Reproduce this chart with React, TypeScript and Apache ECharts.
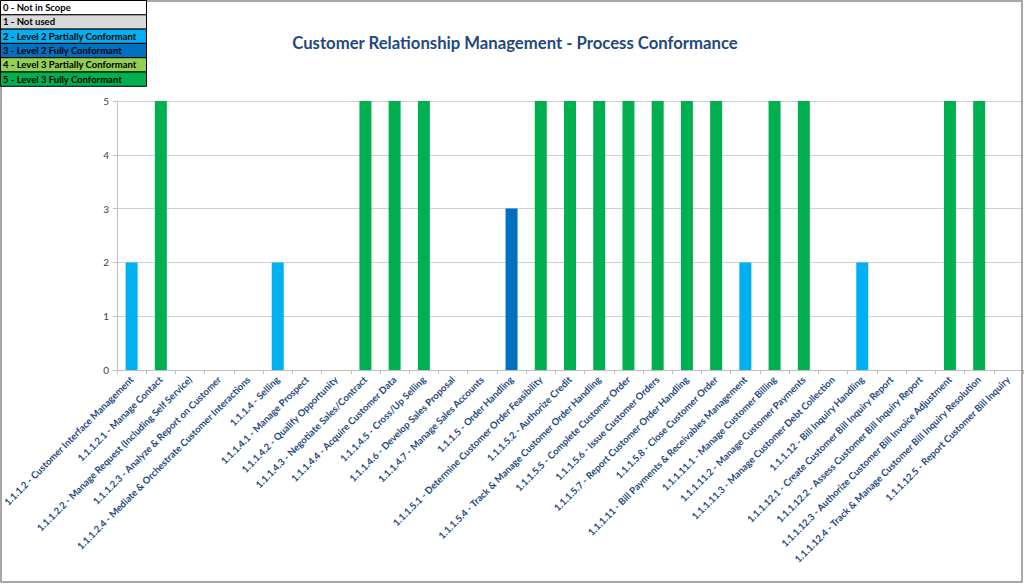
import React, { useEffect, useRef } from "react";
import * as echarts from "echarts";

const categories: string[] = [
  "1.1.1.2 - Customer Interface Management",
  "1.1.1.2.1 - Manage Contact",
  "1.1.1.2.2 - Manage Request (Including Self Service)",
  "1.1.1.2.3 - Analyze & Report on Customer",
  "1.1.1.2.4 - Mediate & Orchestrate Customer Interactions",
  "1.1.1.4 - Selling",
  "1.1.1.4.1 - Manage Prospect",
  "1.1.1.4.2 - Qualify Opportunity",
  "1.1.1.4.3 - Negotiate Sales/Contract",
  "1.1.1.4.4 - Acquire Customer Data",
  "1.1.1.4.5 - Cross/Up Selling",
  "1.1.1.4.6 - Develop Sales Proposal",
  "1.1.1.4.7 - Manage Sales Accounts",
  "1.1.1.5 - Order Handling",
  "1.1.1.5.1 - Determine Customer Order Feasibility",
  "1.1.1.5.2 - Authorize Credit",
  "1.1.1.5.4 - Track & Manage Customer Order Handling",
  "1.1.1.5.5 - Complete Customer Order",
  "1.1.1.5.6 - Issue Customer Orders",
  "1.1.1.5.7 - Report Customer Order Handling",
  "1.1.1.5.8 - Close Customer Order",
  "1.1.1.11 - Bill Payments & Receivables Management",
  "1.1.1.11.1 - Manage Customer Billing",
  "1.1.1.11.2 - Manage Customer Payments",
  "1.1.1.11.3 - Manage Customer Debt Collection",
  "1.1.1.12 - Bill Inquiry Handling",
  "1.1.1.12.1 - Create Customer Bill Inquiry Report",
  "1.1.1.12.2 - Assess Customer Bill Inquiry Report",
  "1.1.1.12.3 - Authorize Customer Bill Invoice Adjustment",
  "1.1.1.12.4 - Track & Manage Customer Bill Inquiry Resolution",
  "1.1.1.12.5 - Report Customer Bill Inquiry",
];

const values: number[] = [
  2, 5, 0, 0, 0, 2, 0, 0, 5, 5, 5, 0, 0, 3, 5, 5, 5, 5, 5, 5, 5, 2, 5, 5, 0, 2, 0, 0, 5, 5, 0,
];

const levelLabels: string[] = [
  "0 - Not in Scope",
  "1 - Not used",
  "2 - Level 2 Partially Conformant",
  "3 - Level 2 Fully Conformant",
  "4 - Level 3 Partially Conformant",
  "5 - Level 3 Fully Conformant",
];

const levelColors: string[] = ["#FFFFFF", "#D9D9D9", "#00B0F0", "#0070C0", "#92D050", "#00B050"];

const yTicks: number[] = [0, 1, 2, 3, 4, 5];

export default function App() {
  const ref = useRef<HTMLDivElement>(null);

  useEffect(() => {
    if (!ref.current) return;
    const chart = echarts.init(ref.current, undefined, { renderer: "svg" });

    const rowH = 14.3;
    const legendW = 146;
    const legendEls: any[] = [];
    levelLabels.forEach((lab, i) => {
      legendEls.push({
        type: "rect",
        shape: { x: 0.5, y: 0.5 + i * rowH, width: legendW, height: rowH },
        style: { fill: levelColors[i], stroke: "#000000", lineWidth: 1 },
        z: 10,
      });
      legendEls.push({
        type: "text",
        x: 3,
        y: 0.5 + i * rowH + rowH / 2,
        style: {
          text: lab,
          fill: "#000000",
          font: "bold 9.5px Lato, 'Noto Sans', sans-serif",
          verticalAlign: "middle",
          align: "left",
        },
        z: 11,
      });
    });

    chart.setOption({
      animation: false,
      backgroundColor: "#FFFFFF",
      title: {
        text: "Customer Relationship Management - Process Conformance",
        left: 510,
        top: 29,
        textAlign: "center",
        textStyle: {
          color: "#1F497D",
          fontFamily: "Lato, 'Noto Sans', sans-serif",
          fontWeight: "bold",
          fontSize: 16.7,
        },
      },
      graphic: [
        {
          type: "rect",
          shape: { x: 1, y: 1, width: 1021, height: 581 },
          style: { fill: "none", stroke: "#8C8C8C", lineWidth: 1.5 },
          z: 1,
          silent: true,
        },
        ...legendEls,
      ],
      grid: {
        left: 117,
        right: 1,
        top: 101,
        bottom: 214,
        containLabel: false,
        outerBoundsMode: "none",
      },
      xAxis: {
        type: "category",
        data: categories,
        boundaryGap: true,
        axisLine: { show: true, lineStyle: { color: "#BFBFBF", width: 1 } },
        axisTick: { show: true, alignWithLabel: false, length: 4, lineStyle: { color: "#BFBFBF" } },
        axisLabel: {
          interval: 0,
          rotate: 45,
          margin: 8,
          color: "#1F497D",
          fontWeight: "bold",
          fontSize: 9.6,
          fontFamily: "Lato, 'Noto Sans', sans-serif",
        },
      },
      yAxis: {
        type: "value",
        min: yTicks[0],
        max: yTicks[yTicks.length - 1],
        interval: 1,
        axisLine: { show: true, lineStyle: { color: "#BFBFBF" } },
        axisTick: { show: true, length: 4, lineStyle: { color: "#BFBFBF" } },
        splitLine: { show: true, lineStyle: { color: "#D0D0D0", width: 1 } },
        axisLabel: {
          color: "#404040",
          fontSize: 10,
          margin: 8,
          fontFamily: "Lato, 'Noto Sans', sans-serif",
        },
      },
      series: [
        {
          type: "bar",
          barWidth: 12,
          data: values.map((v) => ({ value: v, itemStyle: { color: levelColors[v] } })),
        },
      ],
    });

    return () => chart.dispose();
  }, []);

  return (
    <div
      ref={ref}
      style={{ position: "fixed", left: 0, top: 0, width: 1024, height: 584 }}
    />
  );
}
